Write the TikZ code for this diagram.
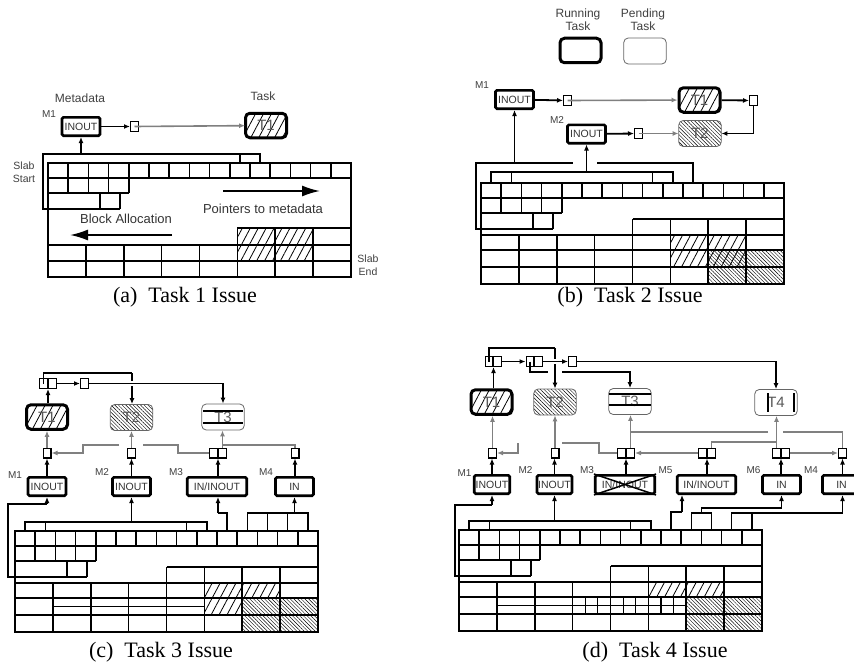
\documentclass[tikz,border=0pt]{standalone}
\usepackage{fontspec}
\setmainfont{Liberation Sans}
\newfontfamily\captionserif{Liberation Serif}
\usetikzlibrary{arrows.meta,patterns.meta,positioning}

\tikzset{
  meta/.style={draw, line width=2.6pt, rounded corners=1.5pt, inner sep=0pt,
    minimum width=38pt, minimum height=18.4pt, font=\fontsize{10.5}{11}\selectfont, text=black!80},
  ptr/.style={draw, line width=1.3pt, inner sep=0pt, minimum width=7.7pt, minimum height=9.7pt},
  running/.style={draw, line width=3pt, rounded corners=4.5pt, inner sep=0pt,
    minimum width=41pt, minimum height=24.5pt, font=\fontsize{15}{15}\selectfont, text=black!65},
  pending/.style={draw=black!60, line width=0.8pt, rounded corners=4.5pt, inner sep=0pt,
    minimum width=42.5pt, minimum height=26pt, font=\fontsize{15}{15}\selectfont, text=black!65},
  hatchone/.style={pattern={Lines[angle=62,distance=7pt,line width=0.8pt]}},
  hatchtwo/.style={pattern={Lines[angle=-45,distance=2.6pt,line width=0.45pt]}},
  blk/.style={line width=1.8pt, -{Latex[length=6pt,width=5pt]}},
  gry/.style={draw=black!50, line width=1.6pt, -{Latex[length=6pt,width=5pt]}},
  bigarrow/.style={line width=1.8pt, -{Latex[length=18pt,width=11pt]}},
  halo/.style={preaction={draw=white, line width=5pt, -, shorten <=2pt, shorten >=5pt}},
  wire/.style={line width=1.5pt},
  gwire/.style={draw=black!50, line width=1.6pt},
  cell/.style={line width=1.7pt},
  slabline/.style={line width=2.6pt},
  fineline/.style={line width=1.1pt},
  mlabel/.style={font=\fontsize{10}{10}\selectfont, text=black!75, inner sep=0pt},
  note/.style={font=\fontsize{12}{13}\selectfont, text=black!75, align=center, inner sep=0pt},
  bignote/.style={font=\fontsize{13}{13}\selectfont, text=black!80, inner sep=0pt},
  smallnote/.style={font=\fontsize{10.5}{13}\selectfont, text=black!75, align=center, inner sep=0pt},
  subcap/.style={font=\captionserif\fontsize{22}{22}\selectfont, inner sep=0pt},
}

% first three rows of a slab (small pointer cells and two blocks)
\newcommand{\slabhead}{%
  \foreach \i in {1,...,14} {\draw[cell] (\i*20.2,0) -- (\i*20.2,15);}
  \draw[cell] (0,15) -- (303,15);
  \foreach \i in {1,...,4} {\draw[cell] (\i*20.2,15) -- (\i*20.2,30);}
  \draw[cell] (0,30) -- (80.8,30);
  \draw[cell] (52,30) -- (52,46);
  \draw[cell] (72,30) -- (72,46);
  \draw[cell] (0,46) -- (72,46);
}
% big blocks at the end of the slab
\newcommand{\slabbody}{%
  \draw[cell] (151.5,36) -- (303,36);
  \foreach \k in {4,...,7} {\draw[cell] (\k*37.875,36) -- (\k*37.875,52);}
  \foreach \r in {52,67,84} {\draw[cell] (0,\r) -- (303,\r);}
  \foreach \k in {1,...,7} {\draw[cell] (\k*37.875,52) -- (\k*37.875,101);}
  \draw[slabline] (0,0) rectangle (303,101);
}
\newcommand{\slabcell}[4]{\path[#4] ({(#1-1)*37.875},#2) rectangle ({#1*37.875},#3);}

\begin{document}
\begin{tikzpicture}[x=1pt,y=-1pt]
\useasboundingbox (0,0) rectangle (854,669);
\clip (0,0) rectangle (854,669);

%%% (a) Task 1 Issue
\node[note] (metalbl) at (80,98) {Metadata};
\node[note] (tasklbl) at (263,96) {Task};
\node[mlabel] (aM1l) at (49,114) {M1};
\node[meta] (aM1) at (81,126.5) {INOUT};
\node[ptr] (ap1) at (134.5,126.5) {};
\node[running, hatchone] (aT1) at (266,125.5) {T1};
\draw[blk] (aM1) -- (ap1);
\draw[gry] (ap1.center) -- (aT1);

\begin{scope}[shift={(48,163)}]
  \slabcell{6}{65}{82}{hatchone} \slabcell{7}{65}{82}{hatchone}
  \slabcell{6}{82}{98}{hatchone} \slabcell{7}{82}{98}{hatchone}
  \slabhead
  \draw[cell] (189.4,65) -- (303,65);
  \foreach \k in {5,6,7} {\draw[cell] (\k*37.875,65) -- (\k*37.875,82);}
  \foreach \r in {82,98} {\draw[cell] (0,\r) -- (303,\r);}
  \foreach \k in {1,...,7} {\draw[cell] (\k*37.875,82) -- (\k*37.875,114);}
  \draw[slabline] (0,0) rectangle (303,114);
  \draw[wire] (0,46) -- (-5,46) -- (-5,-9) -- (212.1,-9) -- (212.1,0);
  \draw[wire] (191.9,-9) -- (191.9,0);
  \coordinate (abr) at (33,-9);
\end{scope}
\draw[blk] (abr) -- (abr |- aM1.south);

\node[smallnote] (slabstart) at (24,172) {Slab\\Start};
\node[smallnote] (slabend) at (368,265) {Slab\\End};
\node[bignote] (ptrtxt) at (263,209) {Pointers to metadata};
\node[bignote] (alloctxt) at (126,219) {Block Allocation};
\coordinate (ptrfrom) at (223,191);
\coordinate (ptrto) at (320,191);
\draw[bigarrow] (ptrfrom) -- (ptrto);
\coordinate (allocfrom) at (172,235);
\coordinate (allocto) at (70,235);
\draw[bigarrow] (allocfrom) -- (allocto);
\node[subcap] (capa) at (185,297) {(a)\enspace Task 1 Issue};

%%% (b) Task 2 Issue
\node[note] (runlbl) at (578,20) {Running\\Task};
\node[note] (pendlbl) at (643,20) {Pending\\Task};
\node[running] (runkey) at (580.5,50.5) {};
\node[pending] (pendkey) at (645,51) {};
\node[mlabel] (bM1l) at (482,85) {M1};
\node[meta] (bM1) at (514.5,99.5) {INOUT};
\node[ptr] (bp1) at (567.5,100.5) {};
\node[running, hatchone] (bT1) at (699.5,100) {T1};
\node[ptr] (bq1) at (753.5,100.5) {};
\node[pending, hatchtwo] (bT2) at (700,133.5) {T2};
\node[mlabel] (bM2l) at (557,120) {M2};
\node[meta] (bM2) at (586.5,134) {INOUT};
\node[ptr] (bp2) at (638.5,133.5) {};
\draw[blk] (bM1) -- (bp1);
\draw[gry] (bp1.center) -- (bT1);
\draw[blk] (bT1) -- (bq1);
\draw[blk] (bq1.south) |- (bT2.east);
\draw[blk] (bM2) -- (bp2);
\draw[gry] (bp2.center) -- (bT2);

\begin{scope}[shift={(481,183)}]
  \slabcell{6}{52}{67}{hatchone} \slabcell{7}{52}{67}{hatchone}
  \slabcell{6}{67}{84}{hatchone} \slabcell{7}{67}{84}{hatchone}
  \slabcell{7}{67}{84}{hatchtwo} \slabcell{8}{67}{84}{hatchtwo}
  \slabcell{7}{84}{101}{hatchtwo} \slabcell{8}{84}{101}{hatchtwo}
  \slabhead
  \slabbody
  \draw[wire] (0,46) -- (-5,46) -- (-5,-20) -- (92,-20);
  \draw[wire] (116,-20) -- (212.1,-20) -- (212.1,0);
  \coordinate (bbr1) at (33.5,-20);
  \draw[wire] (10.1,0) -- (10.1,-11) -- (191.9,-11) -- (191.9,0);
  \draw[wire] (30.3,-11) -- (30.3,0);
  \draw[wire] (171.7,-11) -- (171.7,0);
  \coordinate (bbr2) at (105.5,-11);
\end{scope}
\draw[blk] (bbr1) -- (bbr1 |- bM1.south);
\draw[blk] (bbr2) -- (bbr2 |- bM2.south);
\node[subcap] (capb) at (630,297) {(b)\enspace Task 2 Issue};

%%% (c) Task 3 Issue
\node[ptr] (cd1a) at (43.5,383.5) {};
\node[ptr] (cd1b) at (52.5,383.5) {};
\node[ptr] (cs1) at (84.5,383.5) {};
\node[running, hatchone] (cT1) at (47,417) {T1};
\node[pending, hatchtwo] (cT2) at (131.5,417.5) {T2};
\node[pending] (cT3) at (223,417) {T3};
\draw[fineline] (203,411) -- (243,411);
\draw[fineline] (203,423) -- (243,423);
\draw[blk] (cT1.north -| cd1a.east) -- (cd1a.south east);
\draw[blk] (cd1b.east) -- (cs1.west);
\coordinate (ctop1) at (43.5,373);
\coordinate (ctop2) at (132,373);
\draw[wire] (cd1a.center) -- (ctop1) -- (ctop2);
\draw[blk] (ctop2) -- (ctop2 |- cT2.north);
\draw[blk, halo] (cs1.east) -| (cT3.north);

\node[ptr] (ca1) at (47,453) {};
\node[ptr] (ca2) at (131.5,453) {};
\node[ptr] (ca3a) at (213.5,453) {};
\node[ptr] (ca3b) at (222.5,453) {};
\node[ptr] (ca4) at (295,453) {};
\draw[gry] (ca1) -- (cT1);
\draw[gry] (ca2) -- (cT2);
\draw[gry] (ca3b.north) -- (ca3b.north |- cT3.south);
\coordinate (cj) at (222.5,445);
\draw[gwire] (ca4.north) |- (cj);
\coordinate (cg1) at (178,445);
\coordinate (cg2) at (143,445);
\coordinate (cg3) at (119,445);
\coordinate (cg4) at (83,445);
\draw[gwire] (ca3a.west) -| (cg1) -- (cg2);
\draw[gry] (cg3) -- (cg4) |- (ca1.east);

\node[mlabel] (cM1l) at (15,475) {M1};
\node[meta] (cM1) at (47,486.5) {INOUT};
\node[mlabel] (cM2l) at (102,472) {M2};
\node[meta] (cM2) at (131.5,486.5) {INOUT};
\node[mlabel] (cM3l) at (176,472) {M3};
\node[meta, minimum width=59.5pt] (cM3) at (217,486.5) {IN/INOUT};
\node[mlabel] (cM4l) at (266,472) {M4};
\node[meta] (cM4) at (294.5,486.5) {IN};
\draw[blk] (cM1) -- (ca1);
\draw[blk] (cM2) -- (ca2);
\draw[blk] (cM3.north -| ca3a.east) -- (ca3a.south east);
\draw[blk] (ca4.south |- cM4.north) -- (ca4.south);

\begin{scope}[shift={(15,531)}]
  \slabcell{6}{52}{67}{hatchone} \slabcell{7}{52}{67}{hatchone}
  \slabcell{6}{67}{84}{hatchone}
  \slabcell{7}{67}{84}{hatchtwo} \slabcell{8}{67}{84}{hatchtwo}
  \slabcell{7}{84}{101}{hatchtwo} \slabcell{8}{84}{101}{hatchtwo}
  \draw[fineline] (37.875,75.5) -- (189.375,75.5);
  \slabhead
  \slabbody
  \draw[wire] (0,46) -- (-7,46) -- (-7,-27) -- (32,-27);
  \coordinate (cbr1) at (32,-27);
  \draw[wire] (10.1,0) -- (10.1,-9) -- (191.9,-9) -- (191.9,0);
  \draw[wire] (30.3,-9) -- (30.3,0);
  \draw[wire] (171.7,-9) -- (171.7,0);
  \coordinate (cbr2) at (116.5,-9);
  \draw[wire] (212.1,0) -- (212.1,-18) -- (203,-18);
  \coordinate (cbr3) at (203,-18);
  \draw[wire] (232.3,0) -- (232.3,-18) -- (292.9,-18) -- (292.9,0);
  \draw[wire] (252.5,-18) -- (252.5,0);
  \draw[wire] (272.7,-18) -- (272.7,0);
  \coordinate (cbr4) at (279.5,-18);
\end{scope}
\draw[blk] (cbr1) -- (cbr1 |- cM1.south);
\draw[blk] (cbr2) -- (cbr2 |- cM2.south);
\draw[blk] (cbr3) -- (cbr3 |- cM3.south);
\draw[blk] (cbr4) -- (cbr4 |- cM4.south);
\node[subcap] (capc) at (161,652) {(c)\enspace Task 3 Issue};

%%% (d) Task 4 Issue
\node[ptr] (dAa) at (489,361.5) {};
\node[ptr] (dAb) at (497.5,361.5) {};
\node[ptr] (dBa) at (530,361.5) {};
\node[ptr] (dBb) at (538.5,361.5) {};
\node[ptr] (dC) at (572.5,361.5) {};
\node[running, hatchone] (dT1) at (491.5,402) {T1};
\node[pending, hatchtwo] (dT2) at (555,402) {T2};
\node[pending] (dT3) at (630,401.5) {T3};
\draw[fineline] (609,394) -- (651,394);
\draw[fineline] (609,405) -- (651,405);
\node[pending] (dT4) at (776,402.5) {T4};
\draw[fineline] (768,393) -- (768,412);
\draw[fineline] (794,393) -- (794,412);
\draw[blk] (dT1.north -| dAa.east) -- (dAa.south east);
\draw[blk] (dAb.east) -- (dBa.west);
\coordinate (dtop1) at (489,348);
\coordinate (dtop2) at (555,348);
\draw[wire] (dAa.center) -- (dtop1) -- (dtop2);
\draw[blk] (dtop2) -- (dtop2 |- dT2.north);
\draw[blk, halo] (dBb.east) -- (dC.west);
\draw[blk] (dC.east) -| (dT4.north);
\coordinate (dlow1) at (530,372);
\coordinate (dlow2) at (548,372);
\coordinate (dlow3) at (562,372);
\draw[wire] (dBa.center) -- (dlow1) -- (dlow2);
\draw[blk] (dlow3) -| (dT3.north);

\node[ptr] (da1) at (492.5,453) {};
\node[ptr] (da2) at (555,453) {};
\node[ptr] (da3a) at (621.5,453) {};
\node[ptr] (da3b) at (630.5,453) {};
\node[ptr] (da5a) at (702.5,453) {};
\node[ptr] (da5b) at (711.5,453) {};
\node[ptr] (da6a) at (776.5,453) {};
\node[ptr] (da6b) at (785.5,453) {};
\node[ptr] (da4) at (842.5,453) {};
\draw[gry] (da1.north) -- (da1.north |- dT1.south);
\draw[gry] (da2) -- (dT2);
\draw[gry] (da3b.north) -- (da3b.north |- dT3.south);
\draw[gry] (da6a.north) -- (da6a.north |- dT4.south);
\coordinate (dj3) at (630.5,432);
\coordinate (dg1) at (783,432);
\coordinate (dg2) at (768,432);
\draw[gwire] (da4.north) |- (dg1);
\draw[gwire] (dg2) -- (dj3);
\coordinate (dj4) at (776.5,442);
\draw[gwire] (da5b.north) |- (dj4);
\coordinate (dh1) at (599,443);
\coordinate (dh2) at (562,443);
\coordinate (dh3) at (518,443);
\draw[gwire] (da3a.west) -| (dh1) -- (dh2);
\draw[gry] (dh3) |- (da1.east);
\draw[gry] (da5a.west) -- (da3b.east);
\draw[gry] (da6b.east) -- (da4.west);

\node[mlabel] (dM1l) at (464.5,473.5) {M1};
\node[meta, minimum width=35.5pt] (dM1) at (492,484.5) {INOUT};
\node[mlabel] (dM2l) at (525.5,470) {M2};
\node[meta, minimum width=35pt] (dM2) at (554.5,484.5) {INOUT};
\node[mlabel] (dM3l) at (587,470) {M3};
\node[meta, minimum width=59.5pt] (dM3) at (625,484.5) {IN/INOUT};
\draw[line width=1.5pt] (dM3.north west) -- (dM3.south east);
\draw[line width=1.5pt] (dM3.south west) -- (dM3.north east);
\node[mlabel] (dM5l) at (665.5,470) {M5};
\node[meta, minimum width=58.5pt] (dM5) at (706.5,484.5) {IN/INOUT};
\node[mlabel] (dM6l) at (753.5,470) {M6};
\node[meta] (dM6) at (781.5,484.5) {IN};
\node[mlabel] (dM4l) at (811,470) {M4};
\node[meta] (dM4) at (841.5,484.5) {IN};
\draw[blk] (dM1.north) -- (dM1.north |- da1.south);
\draw[blk] (dM2.north) -- (dM2.north |- da2.south);
\draw[blk] (dM3.north -| da3a.east) -- (da3a.south east);
\draw[blk] (dM5.north -| da5a.east) -- (da5a.south east);
\draw[blk] (dM6.north -| da6a.east) -- (da6a.south east);
\draw[blk] (da4.south |- dM4.north) -- (da4.south);

\begin{scope}[shift={(459,530)}]
  \slabcell{6}{52}{67}{hatchone} \slabcell{7}{52}{67}{hatchone}
  \slabcell{7}{67}{84}{hatchtwo} \slabcell{8}{67}{84}{hatchtwo}
  \slabcell{7}{84}{101}{hatchtwo} \slabcell{8}{84}{101}{hatchtwo}
  \draw[fineline] (37.875,75.5) -- (227.25,75.5);
  \foreach \v in {1,2,4,5,7,8} {\draw[fineline] (113.625+\v*12.625,67) -- (113.625+\v*12.625,84);}
  \slabhead
  \slabbody
  \draw[wire] (0,46) -- (-4,46) -- (-4,-25) -- (33,-25);
  \coordinate (dbr1) at (33,-25);
  \draw[wire] (10.1,0) -- (10.1,-9) -- (191.9,-9) -- (191.9,0);
  \draw[wire] (30.3,-9) -- (30.3,0);
  \draw[wire] (171.7,-9) -- (171.7,0);
  \coordinate (dbr2) at (95.5,-9);
  \draw[wire] (212.1,0) -- (212.1,-18) -- (223,-18);
  \coordinate (dbr5) at (223,-18);
  \draw[wire] (232.3,0) -- (232.3,-17) -- (252.5,-17) -- (252.5,0);
  \draw[wire] (242.4,-17) -- (242.4,-22) -- (322.5,-22);
  \coordinate (dbr6) at (322.5,-22);
  \draw[wire] (272.7,0) -- (272.7,-17) -- (383.5,-17);
  \draw[wire] (292.9,-17) -- (292.9,0);
  \coordinate (dbr4) at (383.5,-17);
\end{scope}
\draw[blk] (dbr1) -- (dbr1 |- dM1.south);
\draw[blk] (dbr2) -- (dbr2 |- dM2.south);
\draw[blk] (dbr5) -- (dbr5 |- dM5.south);
\draw[blk] (dbr6) -- (dbr6 |- dM6.south);
\draw[blk] (dbr4) -- (dbr4 |- dM4.south);
\node[subcap] (capd) at (655,652) {(d)\enspace Task 4 Issue};

\end{tikzpicture}
\end{document}
